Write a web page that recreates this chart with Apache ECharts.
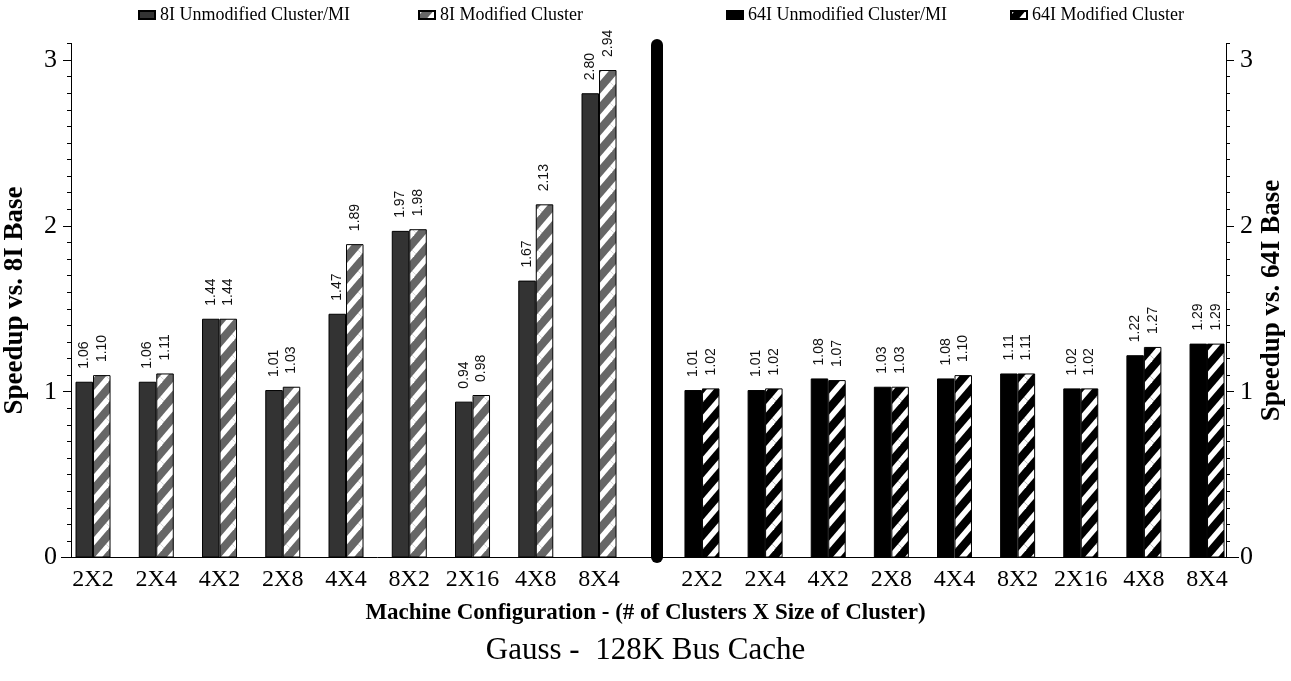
<!DOCTYPE html>
<html><head><meta charset="utf-8">
<script src="https://cdn.jsdelivr.net/npm/echarts@6/dist/echarts.min.js"></script>
<style>html,body{margin:0;padding:0;background:#fff}#c{width:1291px;height:681px}</style>
</head><body><div id="c"></div>
<script>
const categories = ['2X2','2X4','4X2','2X8','4X4','8X2','2X16','4X8','8X4'];
const unmod8I  = [1.06,1.06,1.44,1.01,1.47,1.97,0.94,1.67,2.80];
const mod8I    = [1.10,1.11,1.44,1.03,1.89,1.98,0.98,2.13,2.94];
const unmod64I = [1.01,1.01,1.08,1.03,1.08,1.11,1.02,1.22,1.29];
const mod64I   = [1.02,1.02,1.07,1.03,1.10,1.11,1.02,1.27,1.29];
const yTicks = [0,1,2,3];
const seriesNames = ['8I Unmodified Cluster/MI','8I Modified Cluster','64I Unmodified Cluster/MI','64I Modified Cluster'];

const SERIF = 'Liberation Serif';
const SANS = 'Liberation Sans';

function hatch(bg, fg){
  const W=18, H=21;
  const c=document.createElement('canvas'); c.width=W; c.height=H;
  const g=c.getContext('2d');
  g.fillStyle=bg; g.fillRect(0,0,W,H);
  g.strokeStyle=fg; g.lineWidth=5.5;
  for(let dx=-1;dx<=1;dx++) for(let dy=-1;dy<=1;dy++){
    g.beginPath(); g.moveTo(dx*W, H+dy*H); g.lineTo(W+dx*W, dy*H); g.stroke();
  }
  return {image:c, repeat:'repeat'};
}

const barLabel = {
  show:true, position:'top', rotate:90, align:'left', verticalAlign:'middle',
  distance:13, fontFamily:SANS, fontSize:14, color:'#111',
  formatter:p=>Number(p.value).toFixed(2)
};

function majorAxis(grid, pos, off, name, gap){
  return {
    gridIndex:grid, type:'value', min:0, max:3.1, interval:1, position:pos, offset:off,
    axisLine:{show:true, lineStyle:{color:'#000', width:1}},
    axisTick:{show:true, customValues:yTicks, length:8, lineStyle:{color:'#000'}},
    axisLabel:{customValues:yTicks, fontFamily:SERIF, fontSize:26, color:'#000', margin:14},
    splitLine:{show:false},
    name:name, nameLocation:'middle', nameRotate:90, nameGap:gap,
    nameTextStyle:{fontFamily:SERIF, fontWeight:'bold', fontSize:27, color:'#000'}
  };
}
function minorAxis(grid, pos, off){
  return {
    gridIndex:grid, type:'value', min:0, max:3.1, interval:0.1, position:pos, offset:off,
    axisLine:{show:true, lineStyle:{color:'#000', width:1}},
    axisTick:{show:true, length:4, lineStyle:{color:'#000'}},
    axisLabel:{show:false}, splitLine:{show:false}
  };
}
function catAxis(grid, data){
  return {
    gridIndex:grid, type:'category', data:data,
    axisLine:{show:true, lineStyle:{color:'#000', width:1}},
    axisTick:{show:false},
    axisLabel:{interval:0, fontFamily:SERIF, fontSize:24, color:'#000', margin:10}
  };
}
function legend(name, left){
  return {
    data:[name], left:left, top:1, itemWidth:16, itemHeight:8, itemGap:0, selectedMode:false,
    icon:'rect',
    textStyle:{fontFamily:SERIF, fontSize:18, color:'#000'}
  };
}

const chart = echarts.init(document.getElementById('c'), null, {renderer:'canvas'});
chart.setOption({
  backgroundColor:'#fff',
  animation:false,
  title:[
    {text:'Machine Configuration - (# of Clusters X Size of Cluster)', left:'center', top:597,
     textStyle:{fontFamily:SERIF, fontWeight:'bold', fontSize:23, color:'#000'}},
    {text:'Gauss -  128K Bus Cache', left:'center', top:630,
     textStyle:{fontFamily:SERIF, fontWeight:'normal', fontSize:31, color:'#000'}}
  ],
  legend:[
    legend(seriesNames[0], 133),
    legend(seriesNames[1], 413),
    legend(seriesNames[2], 721),
    legend(seriesNames[3], 1005)
  ],
  grid:[
    {left:61.4, top:43.5, width:632.5, height:514},
    {left:670.4, top:43.5, width:568.2, height:514}
  ],
  xAxis:[ catAxis(0, categories.concat([''])), catAxis(1, categories) ],
  yAxis:[
    majorAxis(0,'left',-9.6,'Speedup vs. 8I Base',42),
    minorAxis(0,'left',-9.6),
    majorAxis(1,'right',-12.6,'Speedup vs. 64I Base',33),
    minorAxis(1,'right',-12.6)
  ],
  series:[
    {name:seriesNames[0], type:'bar', xAxisIndex:0, yAxisIndex:0, data:unmod8I, barWidth:17.5, barGap:'0%',
     itemStyle:{color:'#333', borderColor:'#000', borderWidth:1}, label:barLabel},
    {name:seriesNames[1], type:'bar', xAxisIndex:0, yAxisIndex:0, data:mod8I, barWidth:17.5, barGap:'0%',
     itemStyle:{color:hatch('#666','#fff'), borderColor:'#000', borderWidth:1}, label:barLabel},
    {name:seriesNames[2], type:'bar', xAxisIndex:1, yAxisIndex:2, data:unmod64I, barWidth:17.5, barGap:'0%',
     itemStyle:{color:'#000', borderColor:'#000', borderWidth:1}, label:barLabel},
    {name:seriesNames[3], type:'bar', xAxisIndex:1, yAxisIndex:2, data:mod64I, barWidth:17.5, barGap:'0%',
     itemStyle:{color:hatch('#000','#fff'), borderColor:'#000', borderWidth:1}, label:barLabel}
  ],
  graphic:[
    {type:'line', z:100, shape:{x1:657, y1:45, x2:657, y2:557},
     style:{stroke:'#000', lineWidth:12, lineCap:'round'}}
  ]
});
</script></body></html>
